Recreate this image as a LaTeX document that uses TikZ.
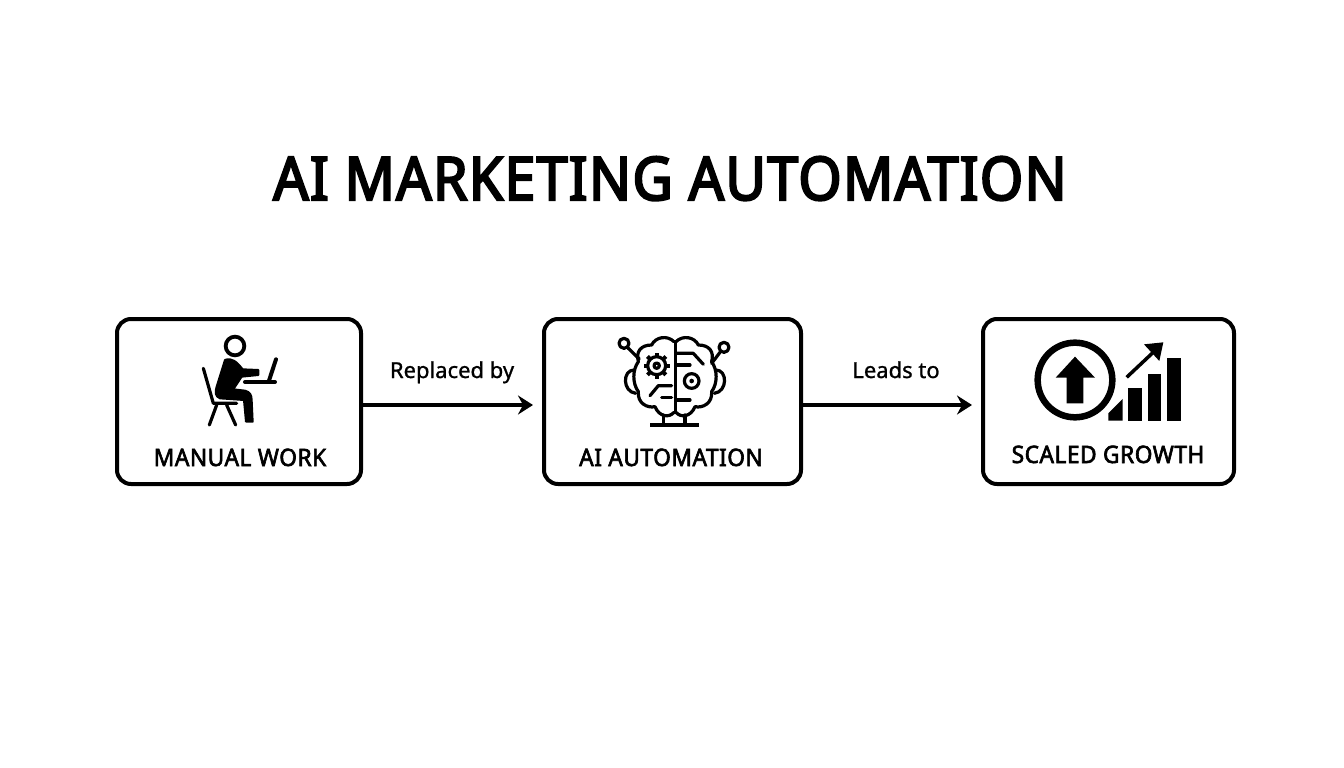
\documentclass[tikz,border=0pt]{standalone}
\usepackage{fontspec}
\setmainfont{Noto Sans}
\newfontfamily\titlefont[FakeBold=3.6,FakeStretch=0.925,LetterSpace=2.2]{Noto Sans}
\newfontfamily\cardfont[FakeBold=2.6,FakeStretch=0.945,LetterSpace=2.2]{Noto Sans}
\newfontfamily\linkfont[FakeBold=1]{Noto Sans}
\usetikzlibrary{arrows.meta,calc}
\tikzset{
  card/.style={draw=black,line width=4pt,rounded corners=14pt,fill=white,inner sep=0pt,minimum height=165pt},
  cardlabel/.style={anchor=base,inner sep=0pt,font=\fontsize{24}{24}\cardfont},
  linklabel/.style={anchor=base,inner sep=0pt,font=\fontsize{22}{22}\linkfont},
  link/.style={line width=3.2pt,-{Stealth[length=15pt,width=19pt,inset=5pt]},shorten >=9pt},
  icon/.style={x=0.3333pt,y=-0.3333pt},
  ln/.style={line width=3.2pt,line cap=round,line join=round,draw=black},
  thin/.style={line width=3.2pt,line cap=round,line join=round,draw=black}
}
\begin{document}
\begin{tikzpicture}[x=1pt,y=-1pt]
\useasboundingbox (0,0) rectangle (1344,768);
\fill[white] (0,0) rectangle (1344,768);
\node[anchor=base,inner sep=0pt,font=\fontsize{60}{60}\titlefont] (title) at (670,200) {AI MARKETING AUTOMATION};
\node[card,minimum width=244pt] (box1) at (239,401.5) {};
\node[card,minimum width=257pt] (box2) at (672.5,401.5) {};
\node[card,minimum width=251pt] (box3) at (1108.5,401.5) {};
\node[cardlabel] (l1) at (240,466) {MANUAL WORK};
\node[cardlabel] (l2) at (671,466) {AI AUTOMATION};
\node[cardlabel] (l3) at (1108,463) {SCALED GROWTH};
\node[linklabel] (r1) at (452,378) {Replaced by};
\node[linklabel] (r2) at (896,378) {Leads to};
\coordinate (ay) at (0,405);
\draw[link] (box1.east |- ay) -- (box2.west |- ay);
\draw[link] (box2.east |- ay) -- (box3.west |- ay);
% person
\begin{scope}[shift={(170pt,-320pt)},icon]
\draw[line width=3.8pt] (195,78) circle (28);
\fill[line join=round,draw=black,line width=2pt] (165,120) .. controls (185,112) and (200,125) .. (218,148) -- (265,150) -- (265,165) -- (215,170) -- (190,208) -- (225,212) .. controls (240,216) and (245,225) .. (245,240) -- (248,305) -- (228,305) -- (222,240) -- (150,235) .. controls (135,230) and (135,215) .. (140,200) -- cycle;
\draw[ln] (100,145) -- (130,250) -- (200,250);
\draw[ln] (140,255) -- (118,315);
\draw[ln] (170,255) -- (197,315);
\draw[line width=4pt,line cap=round] (225,186) -- (315,186);
\draw[line width=4pt,line cap=round] (297,182) -- (318,118);
\end{scope}
% brain
\begin{scope}[shift={(600pt,-325pt)},icon]
\foreach \s/\c in {1/222,-1/228}{
\begin{scope}[shift={(\c,0)},xscale=\s]
\draw[thin] (0,50) .. controls (-20,30) and (-55,35) .. (-67,60)
  .. controls (-100,60) and (-115,80) .. (-107,110)
  .. controls (-125,135) and (-125,175) .. (-107,200)
  .. controls (-110,235) and (-80,250) .. (-57,245)
  .. controls (-45,275) and (-15,280) .. (0,262);
\draw[thin] (-120,135) .. controls (-155,135) and (-155,200) .. (-115,205);
\end{scope}}
\draw[line width=3pt] (225,50) -- (225,268);
\draw[thin] (190,270) -- (190,300);
\draw[thin] (255,270) -- (255,300);
\draw[line width=3.6pt] (150,300) -- (298,300);
\draw[thin] (72,55) circle (15);
\draw[thin] (372,67) circle (15);
\draw[thin] (85,70) -- (118,102);
\draw[thin] (360,82) -- (335,115);
\foreach \a in {0,45,...,315}{\draw[line width=4pt] ($(170,122)+(\a:24)$) -- ($(170,122)+(\a:39)$);}
\draw[line width=3.2pt] (170,122) circle (27);
\draw[thin] (170,122) circle (8);
\draw[thin] (230,85) -- (280,85) -- (310,118);
\draw[thin] (230,120) -- (270,120);
\draw[thin] (215,182) -- (175,182) -- (150,212);
\draw[thin] (185,218) -- (215,218);
\draw[thin] (230,225) -- (270,225);
\draw[line width=3.2pt] (275,168) circle (22);
\fill (275,168) circle (7);
\end{scope}
% growth
\begin{scope}[shift={(1020pt,-325pt)},icon]
\draw[line width=6.5pt] (165,165) circle (112);
\fill (165,95) -- (225,158) -- (190,158) -- (190,235) -- (140,235) -- (140,158) -- (107,158) -- cycle;
\fill (265,287) -- (265,265) -- (308,222) -- (308,287) -- cycle;
\fill (325,188) rectangle (365,287);
\fill (383,146) rectangle (423,287);
\fill (440,100) rectangle (482,287);
\draw[line width=3.5pt] (320,157) -- (405,77);
\fill (430,52) -- (372,58) -- (418,108) -- cycle;
\end{scope}
\end{tikzpicture}
\end{document}
